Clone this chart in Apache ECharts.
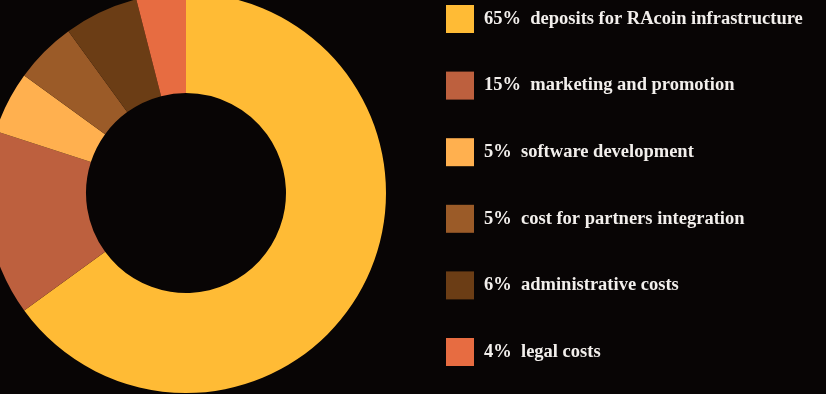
<!DOCTYPE html>
<html><head><meta charset="utf-8">
<script src="https://cdn.jsdelivr.net/npm/echarts@6/dist/echarts.min.js"></script>
<style>html,body{margin:0;padding:0;background:#080505;}#c{width:826px;height:394px;}</style>
</head><body><div id="c"></div>
<script>
const categories = ["deposits for RAcoin infrastructure","marketing and promotion","software development","cost for partners integration","administrative costs","legal costs"];
const values = [65, 15, 5, 5, 6, 4];
const colors = ["#FFBB35","#BD603E","#FFB04F","#9B5B28","#6B3D15","#E76C41"];
const data = categories.map((n,i)=>({name:n,value:values[i],itemStyle:{color:colors[i]}}));
const valueOf = {}; categories.forEach((n,i)=>valueOf[n]=values[i]);
const chart = echarts.init(document.getElementById('c'));
chart.setOption({
  backgroundColor:'#080505',
  animation:false,
  legend:{
    orient:'vertical', left:446, top:5, padding:0,
    itemWidth:28, itemHeight:28, itemGap:38.6, icon:'rect',
    formatter:n=>valueOf[n]+'%  '+n,
    textStyle:{color:'#f2efec', fontFamily:'Liberation Serif', fontSize:18.5, fontWeight:'bold', padding:[3,0,0,5]},
    itemStyle:{borderWidth:0}
  },
  series:[{
    type:'pie', center:[186,193], radius:[100,200], startAngle:90, clockwise:true,
    label:{show:false}, labelLine:{show:false}, silent:true,
    itemStyle:{borderWidth:0},
    data:data
  }]
});
</script></body></html>
